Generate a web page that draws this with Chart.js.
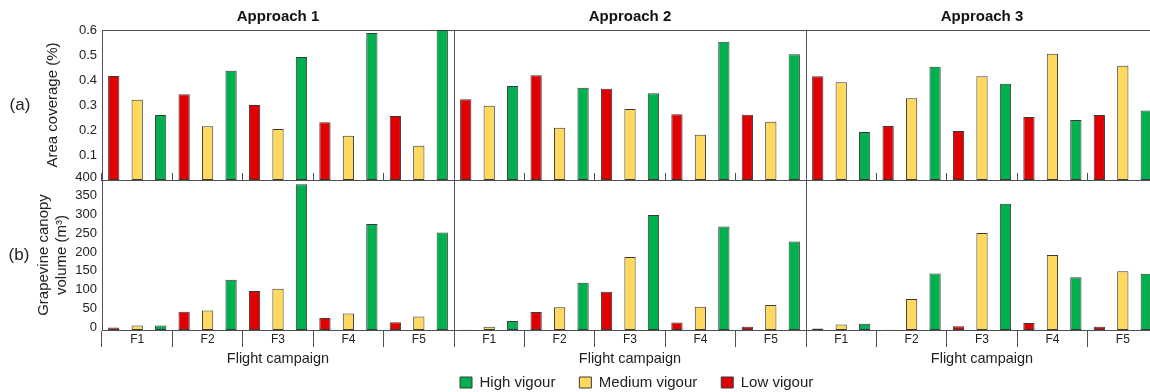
<!DOCTYPE html>
<html>
<head>
<meta charset="utf-8">
<title>Vigour classes by flight campaign</title>
<script src="https://cdn.jsdelivr.net/npm/chart.js@4.4.1/dist/chart.umd.min.js"></script>
<style>
  html, body { margin: 0; padding: 0; background: #fff; overflow: hidden; }
  #fig { position: relative; width: 1150px; height: 392px; overflow: hidden; background: #fff; }
  #fig canvas { position: absolute; }
</style>
</head>
<body>
<div id="fig"></div>
<script>
// ---- data -------------------------------------------------------------
const campaigns  = ['F1', 'F2', 'F3', 'F4', 'F5'];
const approaches = ['Approach 1', 'Approach 2', 'Approach 3'];
const coverageTicks = [0.1, 0.2, 0.3, 0.4, 0.5, 0.6];
const volumeTicks   = [0, 50, 100, 150, 200, 250, 300, 350, 400];

// (a) area coverage (%)
const coverageA1Low    = [0.416, 0.343, 0.300, 0.231, 0.256];
const coverageA1Medium = [0.321, 0.215, 0.204, 0.177, 0.137];
const coverageA1High   = [0.260, 0.437, 0.492, 0.588, 0.600];
const coverageA2Low    = [0.323, 0.419, 0.365, 0.263, 0.261];
const coverageA2Medium = [0.297, 0.209, 0.284, 0.181, 0.233];
const coverageA2High   = [0.376, 0.369, 0.347, 0.553, 0.503];
const coverageA3Low    = [0.415, 0.216, 0.196, 0.252, 0.260];
const coverageA3Medium = [0.391, 0.327, 0.415, 0.505, 0.457];
const coverageA3High   = [0.192, 0.453, 0.385, 0.240, 0.278];

// (b) grapevine canopy volume (m³)
const volumeA1Low    = [7, 49, 104, 32, 21];
const volumeA1Medium = [12, 52, 110, 44, 36];
const volumeA1High   = [12, 134, 389, 283, 260];
const volumeA2Low    = [1, 48, 102, 20, 9];
const volumeA2Medium = [9, 61, 195, 62, 67];
const volumeA2High   = [24, 126, 307, 276, 236];
const volumeA3Low    = [4, 1, 10, 19, 9];
const volumeA3Medium = [15, 83, 259, 200, 157];
const volumeA3High   = [17, 151, 337, 141, 150];

const coverageSets = [
  [coverageA1Low, coverageA1Medium, coverageA1High],
  [coverageA2Low, coverageA2Medium, coverageA2High],
  [coverageA3Low, coverageA3Medium, coverageA3High]
];
const volumeSets = [
  [volumeA1Low, volumeA1Medium, volumeA1High],
  [volumeA2Low, volumeA2Medium, volumeA2High],
  [volumeA3Low, volumeA3Medium, volumeA3High]
];

// ---- styling ----------------------------------------------------------
const FONT = "'Liberation Sans', Arial, Helvetica, sans-serif";
const LINE = '#505050';
const TEXT = '#222';
const classes = [
  { label: 'Low vigour',    color: '#E00000' },
  { label: 'Medium vigour', color: '#FFD95E' },
  { label: 'High vigour',   color: '#00B04F' }
];
Chart.defaults.font.family = FONT;
Chart.defaults.color = TEXT;

const PLOT_W = 352;      // width of one approach panel
const PLOT_H = 150;      // height of one row of bars
const LEGEND_H = 15 + 24 + 10;

const fig = document.getElementById('fig');
function addCanvas(left, top, w, h) {
  const c = document.createElement('canvas');
  c.width = w; c.height = h;
  c.style.left = left + 'px'; c.style.top = top + 'px';
  c.style.width = w + 'px'; c.style.height = h + 'px';
  fig.appendChild(c);
  return c;
}

// small "(a)" / "(b)" row tags
const rowTag = {
  id: 'rowTag',
  afterDraw(chart, args, opts) {
    if (!opts || !opts.text) return;
    const ctx = chart.ctx;
    ctx.save();
    ctx.font = opts.size + 'px ' + FONT;
    ctx.fillStyle = TEXT;
    ctx.textAlign = 'center';
    ctx.textBaseline = 'middle';
    ctx.fillText(opts.text, opts.x, opts.y);
    ctx.restore();
  }
};

function noPad(s) { s.paddingLeft = 0; s.paddingRight = 0; s.paddingTop = 0; s.paddingBottom = 0; }

function barDatasets(values) {
  return classes.map((c, k) => ({
    label: c.label,
    data: values[k],
    backgroundColor: c.color,
    borderColor: '#3a3a3a',
    borderWidth: 1,
    borderSkipped: false,
    barPercentage: 0.48,
    categoryPercentage: 1.0
  }));
}

// ---- row (a): area coverage ------------------------------------------
approaches.forEach((name, i) => {
  const first = i === 0;
  const yw = first ? 102 : 10;
  const left = first ? 0 : 454 + (i - 1) * PLOT_W - yw;
  const canvas = addCanvas(left, 0, yw + PLOT_W, 184);
  new Chart(canvas, {
    type: 'bar',
    data: { labels: campaigns, datasets: barDatasets(coverageSets[i]) },
    plugins: [rowTag],
    options: {
      responsive: false, animation: false, devicePixelRatio: 1, events: [],
      layout: { padding: 0 },
      plugins: {
        legend: { display: false }, tooltip: { enabled: false },
        rowTag: first ? { text: '(a)', x: 20, y: 105, size: 17 } : {}
      },
      scales: {
        x: {
          type: 'category', position: 'bottom', offset: true,
          grid: { display: true, offset: true, drawOnChartArea: false, drawTicks: true, tickLength: -7, color: LINE, lineWidth: 1 },
          border: { display: true, color: LINE, width: 1 },
          ticks: { display: false },
          afterFit: s => { s.height = 4; noPad(s); }
        },
        x2: {
          axis: 'x', type: 'category', position: 'top', offset: true,
          grid: { display: false, drawTicks: false },
          border: { display: true, color: LINE, width: 1 },
          ticks: { display: false },
          title: { display: true, text: name, color: '#111', font: { size: 15, weight: 'bold' }, padding: { top: 8, bottom: 0 } },
          afterFit: s => { s.height = 30; noPad(s); }
        },
        y: {
          position: 'left', min: 0, max: 0.6,
          grid: { display: false, drawTicks: false },
          border: { display: true, color: LINE, width: 1 },
          afterBuildTicks: s => { s.ticks = [0].concat(coverageTicks).map(v => ({ value: v })); },
          ticks: {
            display: first, padding: 5, color: TEXT, font: { size: 13 },
            callback: v => (v === 0 ? '' : Number(v).toFixed(1))
          },
          title: { display: first, text: 'Area coverage (%)', color: TEXT, font: { size: 15 }, padding: { top: 44, bottom: 0 } },
          afterFit: s => { s.width = yw; noPad(s); }
        }
      }
    }
  });
});

// ---- row (b): canopy volume --------------------------------------------
const B_TOP = 160, B_H = 240, B_PAD = 20;
approaches.forEach((name, i) => {
  const first = i === 0;
  const middle = i === 1;
  const yw = first ? 102 : (middle ? 18 : 10);
  const rightW = middle ? 60 : 0;
  const left = first ? 0 : 454 + (i - 1) * PLOT_W - yw;
  const canvas = addCanvas(left, B_TOP, yw + PLOT_W + rightW, B_H);
  const legendH = middle ? LEGEND_H : 0;
  const axisH = B_H - B_PAD - PLOT_H - legendH;
  const axisBottom = B_TOP + B_PAD + PLOT_H + axisH;
  const titleFont = 14.5;
  const titlePadBottom = axisBottom - 359 - titleFont * 1.2 / 2;

  const scales = {
    x: {
      type: 'category', position: 'bottom', offset: true,
      grid: { display: true, offset: true, drawOnChartArea: false, drawTicks: true, tickLength: 17, color: LINE, lineWidth: 1 },
      border: { display: true, color: LINE, width: 1 },
      ticks: { padding: -15, color: TEXT, font: { size: 12 }, autoSkip: false, maxRotation: 0, minRotation: 0 },
      title: { display: true, text: 'Flight campaign', color: TEXT, font: { size: titleFont }, padding: { top: 0, bottom: titlePadBottom } },
      afterFit: s => { s.height = axisH; noPad(s); }
    },
    y: {
      position: 'left', min: 0, max: 400,
      grid: { display: false, drawTicks: false },
      border: { display: true, color: LINE, width: 1 },
      afterBuildTicks: s => { s.ticks = volumeTicks.map(v => ({ value: v })); },
      ticks: { display: first, padding: 5, labelOffset: -3, color: TEXT, font: { size: 13 } },
      title: {
        display: first, text: ['Grapevine canopy', 'volume (m³)'], color: TEXT,
        font: { size: 15, lineHeight: 1.25 }, padding: { top: 34, bottom: 0 }
      },
      afterFit: s => { s.width = yw; noPad(s); }
    }
  };
  if (middle) {
    // empty strip on the right so the legend row has room
    scales.side = {
      axis: 'y', type: 'linear', position: 'right',
      grid: { display: false, drawTicks: false }, border: { display: false },
      ticks: { display: false },
      afterFit: s => { s.width = rightW; noPad(s); }
    };
  }

  new Chart(canvas, {
    type: 'bar',
    data: { labels: campaigns, datasets: barDatasets(volumeSets[i]) },
    plugins: [rowTag],
    options: {
      responsive: false, animation: false, devicePixelRatio: 1, events: [],
      layout: { padding: { top: B_PAD, left: 0, right: 0, bottom: 0 } },
      plugins: {
        tooltip: { enabled: false },
        rowTag: first ? { text: '(b)', x: 19, y: 95, size: 17 } : {},
        legend: {
          display: middle, position: 'bottom', align: 'start', reverse: true,
          labels: { boxWidth: 12, boxHeight: 11, padding: 24, color: TEXT, font: { size: 15 } }
        }
      },
      scales
    }
  });
});
</script>
</body>
</html>
